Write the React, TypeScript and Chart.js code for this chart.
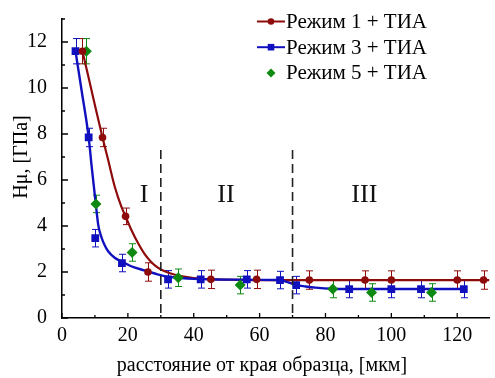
import React, { useEffect, useRef } from "react";
import { Chart, registerables } from "chart.js";

Chart.register(...registerables);

// ---- data ----
const RED_LABEL = "Режим 1 + ТИА";
const BLUE_LABEL = "Режим 3 + ТИА";
const GREEN_LABEL = "Режим 5 + ТИА";

const RED_X = [6.2, 12.3, 19.3, 26.1, 45.2, 59.1, 75.1, 92, 100, 120, 128];
const RED_Y = [11.6, 7.85, 4.42, 2.0, 1.68, 1.68, 1.65, 1.65, 1.65, 1.65, 1.65];
const RED_ERR = [0.55, 0.4, 0.36, 0.4, 0.4, 0.4, 0.4, 0.4, 0.4, 0.4, 0.4];

const BLUE_X = [4.1, 8.1, 10.1, 18.2, 32.2, 42.1, 56.1, 66.2, 71.1, 87.2, 100, 109, 122];
const BLUE_Y = [11.6, 7.85, 3.47, 2.39, 1.68, 1.68, 1.68, 1.65, 1.43, 1.26, 1.26, 1.26, 1.26];
const BLUE_ERR = [0.55, 0.4, 0.38, 0.38, 0.38, 0.38, 0.38, 0.38, 0.38, 0.38, 0.38, 0.38, 0.38];

const GREEN_X = [7.4, 10.3, 21.3, 35.3, 54.1, 82.2, 94, 112.2];
const GREEN_Y = [11.6, 4.96, 2.85, 1.75, 1.43, 1.26, 1.11, 1.11];
const GREEN_ERR = [0.55, 0.38, 0.38, 0.38, 0.38, 0.38, 0.38, 0.38];

// fitted curves
const RED_FIT_X = [6.2, 8, 10, 12.3, 14, 16, 18, 19.3, 21, 23, 25, 27, 29, 31, 34, 37, 40, 45, 50, 60, 129.8];
const RED_FIT_Y = [11.6, 10.5, 9.25, 7.85, 6.88, 5.72, 4.85, 4.42, 3.85, 3.28, 2.8, 2.45, 2.2, 2.04, 1.89, 1.8, 1.74, 1.69, 1.67, 1.65, 1.65];

const BLUE_FIT_X = [4.1, 6, 8.1, 9, 10.3, 11, 12, 13, 14, 16, 18.2, 21, 25, 29, 32, 36, 40, 50, 66, 68, 70, 71.1, 74, 77, 82, 87, 122];
const BLUE_FIT_Y = [11.6, 9.85, 7.85, 6.6, 4.9, 4.05, 3.5, 3.15, 2.9, 2.62, 2.45, 2.25, 2.07, 1.9, 1.8, 1.74, 1.7, 1.67, 1.65, 1.58, 1.48, 1.43, 1.37, 1.32, 1.27, 1.26, 1.26];

const X_TICKS = [0, 10, 20, 30, 40, 50, 60, 70, 80, 90, 100, 110, 120];
const Y_TICKS = [0, 1, 2, 3, 4, 5, 6, 7, 8, 9, 10, 11, 12, 13];

const DIVIDERS_X = [30, 70];
const DIVIDER_TOP = 7.3;
const REGION_LABELS = ["I", "II", "III"];
const REGION_X = [24.9, 49.8, 91.8];
const REGION_Y = 5.35;

const X_TITLE = "расстояние от края образца, [мкм]";
const Y_TITLE = "Hμ, [ГПа]";

// ---- styles ----
const RED = "#8e0b0b";
const BLUE = "#1010bf";
const GREEN = "#0e8a12";
const SERIF = "'Liberation Serif', 'Times New Roman', serif";

const pts = (xs: number[], ys: number[]) => xs.map((x, i) => ({ x, y: ys[i] }));

const extrasPlugin = {
  id: "extras",
  beforeDatasetsDraw(chart: any) {
    const ctx = chart.ctx;
    const ys = chart.scales.y;
    ctx.save();
    chart.data.datasets.forEach((ds: any, di: number) => {
      if (!ds.err) return;
      const meta = chart.getDatasetMeta(di);
      ctx.strokeStyle = ds.borderColor;
      ctx.lineWidth = 1;
      meta.data.forEach((el: any, i: number) => {
        const v = ds.data[i].y;
        const e = ds.err[i];
        const x = Math.round(el.x) + 0.5;
        const yt = ys.getPixelForValue(v + e);
        const yb = ys.getPixelForValue(v - e);
        ctx.beginPath();
        ctx.moveTo(x, yt);
        ctx.lineTo(x, yb);
        ctx.moveTo(x - 3.5, yt);
        ctx.lineTo(x + 3.5, yt);
        ctx.moveTo(x - 3.5, yb);
        ctx.lineTo(x + 3.5, yb);
        ctx.stroke();
      });
    });
    ctx.restore();
  },
  afterDraw(chart: any) {
    const ctx = chart.ctx;
    const xs = chart.scales.x;
    const ys = chart.scales.y;
    const area = chart.chartArea;
    ctx.save();
    // tick marks (inside)
    ctx.strokeStyle = "#000";
    ctx.lineWidth = 1.3;
    ctx.beginPath();
    X_TICKS.forEach((v) => {
      const px = xs.getPixelForValue(v);
      const len = v % 20 === 0 ? 5 : 3;
      ctx.moveTo(px, area.bottom);
      ctx.lineTo(px, area.bottom - len);
    });
    Y_TICKS.forEach((v) => {
      const py = ys.getPixelForValue(v);
      const len = v % 2 === 0 ? 6 : 3;
      ctx.moveTo(area.left, py);
      ctx.lineTo(area.left + len, py);
    });
    ctx.stroke();

    // dashed dividers
    ctx.setLineDash([9, 5]);
    ctx.lineWidth = 1.6;
    ctx.strokeStyle = "#222";
    DIVIDERS_X.forEach((v) => {
      const px = xs.getPixelForValue(v);
      ctx.beginPath();
      ctx.moveTo(px, ys.getPixelForValue(DIVIDER_TOP));
      ctx.lineTo(px, ys.getPixelForValue(0));
      ctx.stroke();
    });
    ctx.setLineDash([]);

    // region labels
    ctx.fillStyle = "#111";
    ctx.font = `26px ${SERIF}`;
    ctx.textAlign = "center";
    ctx.textBaseline = "middle";
    REGION_LABELS.forEach((t, i) => {
      ctx.fillText(t, xs.getPixelForValue(REGION_X[i]), ys.getPixelForValue(REGION_Y));
    });

    // axis titles
    ctx.font = `20px ${SERIF}`;
    ctx.fillStyle = "#000";
    ctx.fillText(X_TITLE, 262, 366);
    ctx.save();
    ctx.translate(22, 157);
    ctx.rotate(-Math.PI / 2);
    ctx.fillText(Y_TITLE, 0, 0);
    ctx.restore();

    // legend
    const entries = chart.data.datasets.filter((d: any) => d.legendLine !== undefined);
    entries.forEach((d: any, i: number) => {
      const cy = 21.5 + i * 25.7;
      if (d.legendLine) {
        ctx.strokeStyle = d.borderColor;
        ctx.lineWidth = 2;
        ctx.beginPath();
        ctx.moveTo(257, cy);
        ctx.lineTo(285, cy);
        ctx.stroke();
      }
      ctx.fillStyle = d.backgroundColor;
      const r = d.legendRadius;
      ctx.beginPath();
      if (d.pointStyle === "circle") {
        ctx.arc(271, cy, r, 0, Math.PI * 2);
      } else if (d.pointStyle === "rect") {
        ctx.rect(271 - r, cy - r, 2 * r, 2 * r);
      } else {
        ctx.moveTo(271, cy - r);
        ctx.lineTo(271 + r, cy);
        ctx.lineTo(271, cy + r);
        ctx.lineTo(271 - r, cy);
        ctx.closePath();
      }
      ctx.fill();
      ctx.fillStyle = "#000";
      ctx.font = `21px ${SERIF}`;
      ctx.textAlign = "left";
      ctx.textBaseline = "middle";
      ctx.fillText(d.label, 286, cy + 1);
    });
    ctx.restore();
  },
};

export default function App() {
  const ref = useRef<HTMLCanvasElement | null>(null);
  useEffect(() => {
    if (!ref.current) return;
    const chart = new Chart(ref.current, {
      type: "scatter",
      data: {
        datasets: [
          {
            label: RED_LABEL,
            data: pts(RED_X, RED_Y),
            err: RED_ERR,
            borderColor: RED,
            backgroundColor: RED,
            pointStyle: "circle",
            pointRadius: 3.8,
            pointBorderWidth: 0,
            showLine: false,
            order: 0,
            legendLine: true,
            legendRadius: 3.3,
          } as any,
          {
            label: BLUE_LABEL,
            data: pts(BLUE_X, BLUE_Y),
            err: BLUE_ERR,
            borderColor: BLUE,
            backgroundColor: BLUE,
            pointStyle: "rect",
            pointRadius: 5.5,
            pointBorderWidth: 0,
            showLine: false,
            order: 0,
            legendLine: true,
            legendRadius: 3.3,
          } as any,
          {
            label: GREEN_LABEL,
            data: pts(GREEN_X, GREEN_Y),
            err: GREEN_ERR,
            borderColor: GREEN,
            backgroundColor: GREEN,
            pointStyle: "rectRot",
            pointRadius: 5.5,
            pointBorderWidth: 0,
            showLine: false,
            order: 0,
            legendLine: false,
            legendRadius: 4.5,
          } as any,
          {
            label: "fit1",
            data: pts(RED_FIT_X, RED_FIT_Y),
            borderColor: RED,
            backgroundColor: RED,
            borderWidth: 2.2,
            pointRadius: 0,
            showLine: true,
            cubicInterpolationMode: "monotone",
            order: 2,
          } as any,
          {
            label: "fit3",
            data: pts(BLUE_FIT_X, BLUE_FIT_Y),
            borderColor: BLUE,
            backgroundColor: BLUE,
            borderWidth: 2.4,
            pointRadius: 0,
            showLine: true,
            cubicInterpolationMode: "monotone",
            order: 1,
          } as any,
        ],
      },
      options: {
        animation: false,
        responsive: false,
        layout: { padding: { top: 11, left: 0, right: 0, bottom: 0 } },
        plugins: { legend: { display: false }, tooltip: { enabled: false } },
        scales: {
          x: {
            type: "linear",
            min: 0,
            max: 129.8,
            grid: { display: false },
            border: { display: true, color: "#000", width: 1.5 },
            afterBuildTicks: (s: any) => {
              s.ticks = X_TICKS.map((v) => ({ value: v }));
            },
            afterFit: (s: any) => {
              s.height = 60;
            },
            ticks: {
              autoSkip: false,
              maxRotation: 0,
              padding: -2,
              color: "#000",
              font: { family: SERIF, size: 20 },
              callback: (v: any) => (Number(v) % 20 === 0 ? String(v) : ""),
            },
          },
          y: {
            type: "linear",
            min: 0,
            max: 13,
            grid: { display: false },
            border: { display: true, color: "#000", width: 1.5 },
            afterBuildTicks: (s: any) => {
              s.ticks = Y_TICKS.map((v) => ({ value: v }));
            },
            afterFit: (s: any) => {
              s.width = 62;
            },
            ticks: {
              autoSkip: false,
              padding: 7,
              color: "#000",
              font: { family: SERIF, size: 20 },
              callback: (v: any) => (Number(v) % 2 === 0 ? String(v) : ""),
            },
          },
        },
      } as any,
      plugins: [extrasPlugin],
    });
    return () => chart.destroy();
  }, []);
  return (
    <div style={{ position: "fixed", left: 0, top: 0, width: 495, height: 378, background: "#fff" }}>
      <canvas ref={ref} width={495} height={378} style={{ display: "block" }} />
    </div>
  );
}
